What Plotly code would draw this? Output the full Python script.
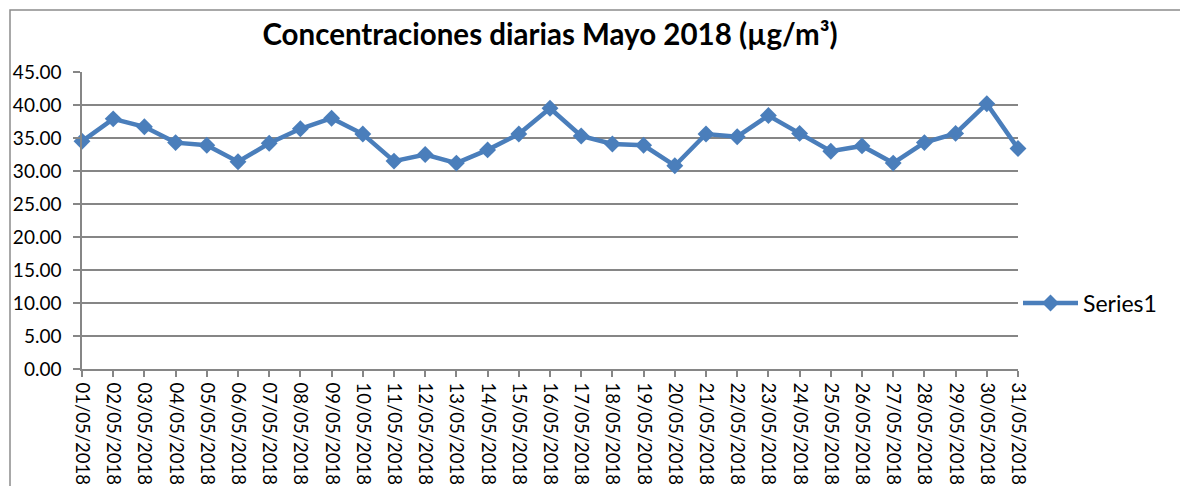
import plotly.graph_objects as go

# fechas (categorías) y concentraciones diarias
dates = ["%02d/05/2018" % d for d in range(1, 32)]
values = [34.5, 37.9, 36.7, 34.3, 33.9, 31.4, 34.2, 36.4, 38.0, 35.6,
          31.5, 32.5, 31.2, 33.2, 35.6, 39.5, 35.3, 34.1, 33.9, 30.8,
          35.6, 35.2, 38.4, 35.7, 33.0, 33.8, 31.2, 34.3, 35.7, 40.2,
          33.4]
y_ticks = [0, 5, 10, 15, 20, 25, 30, 35, 40, 45]

blue = "#4A7EBB"
grid = "#868686"
font_family = "Lato, 'Liberation Sans', sans-serif"

# la página html tiene 8px de margen en body
W, H = 1180, 478
L, R, T, B = 74, 170, 64, 117
pw, ph = W - L - R, H - T - B

fig = go.Figure()
fig.add_trace(go.Scatter(
    x=dates, y=values, name="Series1", mode="lines+markers",
    line=dict(color=blue, width=4.5),
    marker=dict(symbol="diamond", size=13, color=blue),
    cliponaxis=False,
))

fig.update_layout(
    width=W, height=H,
    margin=dict(l=L, r=R, t=T, b=B),
    paper_bgcolor="white", plot_bgcolor="white",
    font=dict(family=font_family, size=16, color="black"),
    title=dict(text="<b>Concentraciones diarias Mayo 2018 (µg/m³)</b>",
               x=0.5, xref="paper", xanchor="center",
               y=1 - 27 / H, yref="container", yanchor="middle",
               font=dict(size=29.5, color="black")),
    showlegend=True,
    legend=dict(x=1.0, y=0.222, xanchor="left", yanchor="middle",
                font=dict(size=23), bgcolor="rgba(0,0,0,0)",
                itemwidth=55),
)

fig.update_xaxes(
    type="category", range=[0, 30], tickangle=90, automargin=False,
    showgrid=False, showline=True, linecolor=grid, linewidth=1.5,
    ticks="outside", ticklen=6, tickcolor=grid, tickwidth=1.5,
    tickfont=dict(size=18.5), ticklabelstandoff=2, zeroline=False,
)
fig.update_yaxes(
    range=[0, 45], tickvals=y_ticks, tickformat=".2f", automargin=False,
    showgrid=True, gridcolor=grid, gridwidth=1.5,
    showline=True, linecolor=grid, linewidth=1.5,
    ticks="outside", ticklen=7, tickcolor=grid, tickwidth=1.5,
    tickfont=dict(size=19), ticklabelstandoff=8, zeroline=False,
)

# borde del área del gráfico
fig.add_shape(type="rect", xref="paper", yref="paper",
              x0=(2 - L) / pw, x1=(1177 - L) / pw,
              y0=(ph + 200) / -ph, y1=(ph + T - 2) / ph,
              line=dict(color="#8c8c8c", width=1.5), layer="below")

fig.write_html("out.html")
